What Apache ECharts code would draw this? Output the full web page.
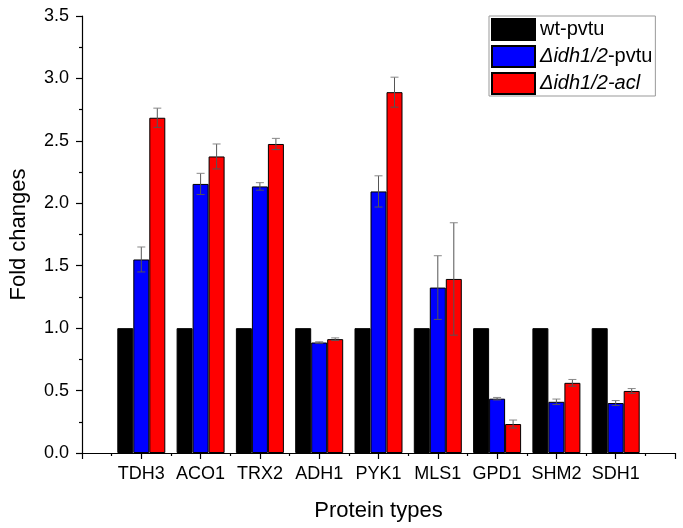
<!DOCTYPE html>
<html>
<head>
<meta charset="utf-8">
<script src="https://cdn.jsdelivr.net/npm/echarts@6/dist/echarts.min.js"></script>
<style>
html,body{margin:0;padding:0;background:#fff;}
#main{width:683px;height:528px;}
</style>
</head>
<body>
<div id="main"></div>
<script>
const categories = ['TDH3','ACO1','TRX2','ADH1','PYK1','MLS1','GPD1','SHM2','SDH1'];
const seriesNames = ['wt-pvtu','Δidh1/2-pvtu','Δidh1/2-acl'];
const wtValues  = [1, 1, 1, 1, 1, 1, 1, 1, 1];
const pvtuValues = [1.55, 2.155, 2.135, 0.885, 2.095, 1.325, 0.435, 0.41, 0.40];
const pvtuErrors = [0.10, 0.085, 0.03, 0.006, 0.125, 0.255, 0.01, 0.022, 0.02];
const aclValues  = [2.685, 2.375, 2.475, 0.912, 2.89, 1.394, 0.232, 0.562, 0.497];
const aclErrors  = [0.077, 0.10, 0.045, 0.01, 0.12, 0.45, 0.032, 0.027, 0.019];
const yTicks = { min: 0, max: 3.5, step: 0.5 };

const BAR_W = 16;
const font = '"Liberation Sans", Arial, sans-serif';

function barData(vals){ return vals.map((v,i)=>[i+1, v]); }
function errData(vals, errs){ return vals.map((v,i)=>[i+1, v, errs[i]]); }

function errRender(offset){
  return function(params, api){
    const x = api.value(0), v = api.value(1), e = api.value(2);
    const pt = api.coord([x, v + e]);
    const pb = api.coord([x, v - e]);
    const cx = pt[0] + offset;
    const cap = 4;
    const st = { stroke: '#555', lineWidth: 1 };
    return {
      type: 'group',
      children: [
        { type: 'line', shape: { x1: cx, y1: pt[1], x2: cx, y2: pb[1] }, style: st },
        { type: 'line', shape: { x1: cx - cap, y1: pt[1], x2: cx + cap, y2: pt[1] }, style: { stroke: '#888', lineWidth: 1 } },
        { type: 'line', shape: { x1: cx - cap, y1: pb[1], x2: cx + cap, y2: pb[1] }, style: st }
      ]
    };
  };
}

const chart = echarts.init(document.getElementById('main'), null, { renderer: 'canvas' });
chart.setOption({
  animation: false,
  backgroundColor: '#fff',
  textStyle: { fontFamily: font },
  grid: { left: 82, right: 8, top: 16, bottom: 75, containLabel: false, outerBoundsMode: 'none' },
  legend: {
    orient: 'vertical',
    left: 489, top: 16,
    padding: [2, 3, 1, 2],
    itemGap: 4,
    itemWidth: 43, itemHeight: 21,
    borderColor: '#999', borderWidth: 1,
    icon: 'rect',
    data: seriesNames,
    formatter: function(name){
      if (name === seriesNames[1]) return '{it|Δidh1/2}{n|-pvtu}';
      if (name === seriesNames[2]) return '{it|Δidh1/2-acl}';
      return '{n|' + name + '}';
    },
    textStyle: {
      fontFamily: font, fontSize: 20, color: '#000', lineHeight: 21,
      rich: {
        it: { fontFamily: font, fontSize: 20, fontStyle: 'italic', color: '#000', lineHeight: 21 },
        n: { fontFamily: font, fontSize: 20, color: '#000', lineHeight: 21 }
      }
    }
  },
  xAxis: {
    type: 'value',
    min: 0, max: 10, interval: 1,
    name: 'Protein types',
    nameLocation: 'middle',
    nameGap: 47,
    nameTextStyle: { fontFamily: font, fontSize: 22, color: '#000' },
    axisLine: { show: true, onZero: false, lineStyle: { color: '#000', width: 1.2 } },
    axisTick: { show: true, inside: false, length: 6, lineStyle: { color: '#000', width: 1.2 } },
    minorTick: { show: true, splitNumber: 2, length: 3, lineStyle: { color: '#000', width: 1.2 } },
    splitLine: { show: false },
    minorSplitLine: { show: false },
    axisLabel: {
      margin: 12, fontFamily: font, fontSize: 18, color: '#000',
      formatter: function(v){ return categories[v - 1] || ''; }
    }
  },
  yAxis: {
    type: 'value',
    min: yTicks.min, max: yTicks.max, interval: yTicks.step,
    name: 'Fold changes',
    nameLocation: 'middle',
    nameGap: 52,
    nameRotate: 90,
    nameTextStyle: { fontFamily: font, fontSize: 22, color: '#000' },
    axisLine: { show: true, lineStyle: { color: '#000', width: 1.2 } },
    axisTick: { show: true, inside: false, length: 6, lineStyle: { color: '#000', width: 1.2 } },
    minorTick: { show: true, splitNumber: 2, length: 3, lineStyle: { color: '#000', width: 1.2 } },
    splitLine: { show: false },
    axisLabel: {
      margin: 13, fontFamily: font, fontSize: 18, color: '#000',
      formatter: function(v){ return v.toFixed(1); }
    }
  },
  series: [
    { name: seriesNames[0], type: 'bar', data: barData(wtValues), barWidth: BAR_W, barGap: '0%',
      itemStyle: { color: '#000000', borderColor: '#000', borderWidth: 1 } },
    { name: seriesNames[1], type: 'bar', data: barData(pvtuValues), barWidth: BAR_W, barGap: '0%',
      itemStyle: { color: '#0000FF', borderColor: '#000', borderWidth: 1 } },
    { name: seriesNames[2], type: 'bar', data: barData(aclValues), barWidth: BAR_W, barGap: '0%',
      itemStyle: { color: '#FF0000', borderColor: '#000', borderWidth: 1 } },
    { type: 'custom', data: errData(pvtuValues, pvtuErrors), renderItem: errRender(0), z: 5, silent: true,
      encode: { x: 0, y: 1 } },
    { type: 'custom', data: errData(aclValues, aclErrors), renderItem: errRender(BAR_W), z: 5, silent: true,
      encode: { x: 0, y: 1 } }
  ]
});
</script>
</body>
</html>
